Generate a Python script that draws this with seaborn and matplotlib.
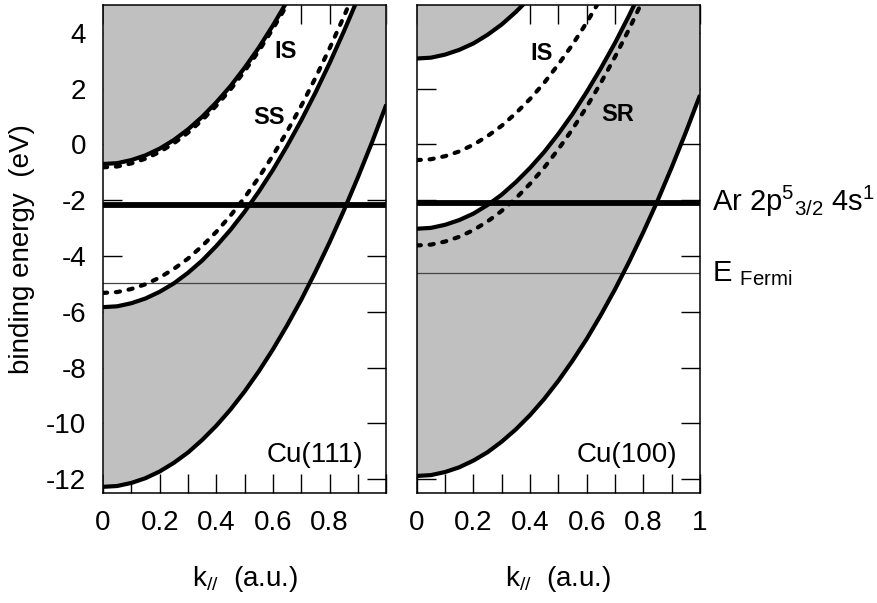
import matplotlib
matplotlib.use("Agg")
import matplotlib.pyplot as plt
import seaborn as sns

# Parallel momentum grid (a.u.)
k = [0.00, 0.05, 0.10, 0.15, 0.20, 0.25, 0.30, 0.35, 0.40, 0.45, 0.50,
     0.55, 0.60, 0.65, 0.70, 0.75, 0.80, 0.85, 0.90, 0.95, 1.00]

# Cu(111) bands (eV)
cu111_upper = [-0.70, -0.67, -0.56, -0.39, -0.15, 0.16, 0.54, 0.99, 1.51, 2.09,
               2.75, 3.47, 4.27, 5.13, 6.06]
cu111_is = [-0.82, -0.79, -0.68, -0.51, -0.27, 0.04, 0.42, 0.87, 1.39, 1.97,
            2.63, 3.35, 4.15, 5.01]
cu111_ss = [-5.32, -5.29, -5.18, -5.01, -4.77, -4.46, -4.09, -3.64, -3.13, -2.55,
            -1.90, -1.18, -0.39, 0.47, 1.39, 2.39, 3.45, 4.58, 5.78]
cu111_mid = [-5.83, -5.80, -5.69, -5.52, -5.28, -4.98, -4.60, -4.16, -3.64, -3.06,
             -2.41, -1.69, -0.91, -0.05, 0.87, 1.86, 2.92, 4.05, 5.24, 6.51, 7.84]
cu111_low = [-12.27, -12.24, -12.13, -11.96, -11.72, -11.41, -11.04, -10.59, -10.08, -9.50,
             -8.85, -8.13, -7.34, -6.48, -5.56, -4.56, -3.50, -2.37, -1.17, 0.09, 1.43]

# Cu(100) bands (eV)
cu100_upper = [3.08, 3.11, 3.22, 3.39, 3.62, 3.93, 4.30, 4.75, 5.26]
cu100_is = [-0.56, -0.53, -0.42, -0.25, -0.01, 0.30, 0.67, 1.12, 1.63, 2.21,
            2.87, 3.58, 4.37, 5.23]
cu100_mid = [-3.02, -2.99, -2.88, -2.71, -2.48, -2.17, -1.80, -1.35, -0.84, -0.27,
             0.38, 1.09, 1.88, 2.73, 3.64, 4.63, 5.68, 6.81, 8.00, 9.25, 10.58]
cu100_sr = [-3.62, -3.59, -3.48, -3.31, -3.07, -2.76, -2.38, -1.93, -1.41, -0.83,
            -0.17, 0.55, 1.35, 2.21, 3.14, 4.14, 5.21]
cu100_low = [-11.88, -11.85, -11.74, -11.57, -11.33, -11.03, -10.65, -10.21, -9.70, -9.12,
             -8.47, -7.75, -6.97, -6.11, -5.19, -4.20, -3.14, -2.02, -0.82, 0.44, 1.77]

# Ar 2p5 4s level and Fermi level per surface: [Cu(111), Cu(100)]
ar_level = [-2.17, -2.11]
fermi_level = [-4.95, -4.60]

x_ticks = [0.0, 0.1, 0.2, 0.3, 0.4, 0.5, 0.6, 0.7, 0.8, 0.9, 1.0]
x_labels_left = ["0", "", "0.2", "", "0.4", "", "0.6", "", "0.8", "", ""]
x_labels_right = ["0", "", "0.2", "", "0.4", "", "0.6", "", "0.8", "", "1"]
y_ticks = [-12, -10, -8, -6, -4, -2, 0, 2, 4]
y_labels = ["-12", "-10", "-8", "-6", "-4", "-2", "0", "2", "4"]

sns.set_theme(style="ticks")
plt.rcParams["font.family"] = ["Liberation Sans", "DejaVu Sans"]
plt.rcParams["mathtext.fontset"] = "custom"
plt.rcParams["mathtext.rm"] = "Liberation Sans"
plt.rcParams["mathtext.it"] = "Liberation Sans:italic"
plt.rcParams["mathtext.bf"] = "Liberation Sans:bold"
plt.rcParams["axes.unicode_minus"] = False
for key in ("text.color", "axes.labelcolor", "xtick.color", "ytick.color", "axes.edgecolor"):
    plt.rcParams[key] = "black"

GRAY = "#c0c0c0"
LW = 3.0
DASH = (0, (1.0, 2.1))
FS = 20

fig = plt.figure(figsize=(8.78, 6.03), dpi=100)
ax1 = fig.add_axes([0.1173, 0.182, 0.3227, 0.8098])
ax2 = fig.add_axes([0.4746, 0.182, 0.3227, 0.8098])


def curve(ax, vals, dashed=False):
    kw = dict(color="black", lw=LW, zorder=3, solid_capstyle="butt",
              solid_joinstyle="round")
    if dashed:
        kw.update(linestyle=DASH, dash_capstyle="round", dash_joinstyle="round")
    sns.lineplot(x=k[:len(vals)], y=vals, ax=ax, sort=False, estimator=None, **kw)


def frame(ax, xlabels, show_y):
    ax.set_xlim(0, 1)
    ax.set_ylim(-12.5, 5)
    ax.set_xticks(x_ticks)
    ax.set_xticklabels(xlabels)
    ax.set_yticks(y_ticks)
    ax.set_yticklabels(y_labels if show_y else [])
    ax.tick_params(direction="in", length=14, width=1.0, top=True, right=True,
                   labelsize=FS, pad=12, colors="black")
    for s in ax.spines.values():
        s.set_linewidth(1.1)
        s.set_color("black")
        s.set_visible(True)
    ax.set_xlabel(r"k$_{//}$  (a.u.)", fontsize=FS, labelpad=20)
    ax.set_facecolor("white")


# Cu(111)
ax1.fill_between(k[:len(cu111_upper)], cu111_upper, 20, color=GRAY, lw=0, zorder=1)
ax1.fill_between(k, cu111_low, cu111_mid, color=GRAY, lw=0, zorder=1)
ax1.axhline(fermi_level[0], color="#444444", lw=0.9, zorder=2)
curve(ax1, cu111_upper)
curve(ax1, cu111_is, dashed=True)
curve(ax1, cu111_ss, dashed=True)
curve(ax1, cu111_mid)
curve(ax1, cu111_low)
ax1.axhline(ar_level[0], color="black", lw=4.2, zorder=4)
ax1.text(0.645, 3.34, "IS", fontsize=17, fontweight="bold", ha="center", va="center")
ax1.text(0.587, 0.95, "SS", fontsize=17, fontweight="bold", ha="center", va="center")
ax1.text(0.918, -11.39, "Cu(111)", fontsize=FS, ha="right", va="baseline")
frame(ax1, x_labels_left, True)
ax1.set_ylabel("binding energy  (eV)", fontsize=FS, labelpad=8)

# Cu(100)
ax2.fill_between(k[:len(cu100_upper)], cu100_upper, 20, color=GRAY, lw=0, zorder=1)
ax2.fill_between(k, cu100_low, cu100_mid, color=GRAY, lw=0, zorder=1)
ax2.axhline(fermi_level[1], color="#444444", lw=0.9, zorder=2)
curve(ax2, cu100_upper)
curve(ax2, cu100_is, dashed=True)
curve(ax2, cu100_mid)
curve(ax2, cu100_sr, dashed=True)
curve(ax2, cu100_low)
ax2.axhline(ar_level[1], color="black", lw=4.2, zorder=4)
ax2.text(0.439, 3.26, "IS", fontsize=17, fontweight="bold", ha="center", va="center")
ax2.text(0.709, 1.075, "SR", fontsize=17, fontweight="bold", ha="center", va="center")
ax2.text(0.918, -11.39, "Cu(100)", fontsize=FS, ha="right", va="baseline")
frame(ax2, x_labels_right, False)
ax2.set_ylabel("")

ax2.text(1.041, -2.39, r"Ar 2p$^{5}{}_{3/2}$ 4s$^{1}$", fontsize=21,
         ha="left", va="baseline", clip_on=False)
ax2.text(1.041, -4.90, r"E $_{\mathrm{Fermi}}$", fontsize=21,
         ha="left", va="baseline", clip_on=False)

fig.savefig("out.png", dpi=100, facecolor="white")
